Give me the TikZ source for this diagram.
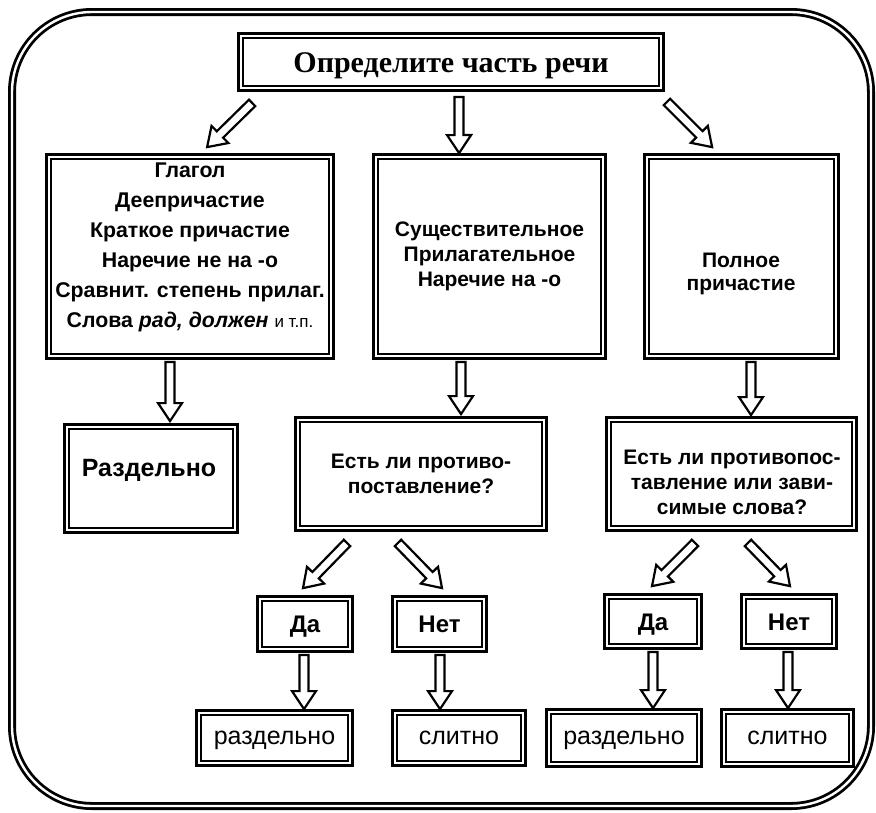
\documentclass[tikz,border=0pt]{standalone}
\usepackage{fontspec}
\setmainfont{Liberation Sans}
\newfontfamily\titlefont{Liberation Serif}
\usetikzlibrary{calc}
\tikzset{
  box/.style={draw=black, line width=2.8pt, inner sep=0pt, font=\bfseries\fontsize{21}{25}\selectfont},
  txt/.style={inner sep=0pt, align=center, font=\bfseries\fontsize{21}{25}\selectfont},
  yesno/.style={font=\bfseries\fontsize{24}{26}\selectfont, text height=17pt, text depth=0pt},
  reg/.style={font=\mdseries\fontsize{25}{28}\selectfont, text height=13pt, text depth=0pt},
  harrow/.style={draw=black, line width=2.2pt, fill=white, line join=miter,
    to path={
      let \p1=(\tikztostart), \p2=(\tikztotarget),
          \n1={atan2(\y2-\y1,\x2-\x1)}, \n2={veclen(\x2-\x1,\y2-\y1)}
      in ($(\p1)+(\n1+90:4.5pt)$)
      -- ($(\p1)+(\n1:{(\n2-18)*1pt})+(\n1+90:4.5pt)$)
      -- ($(\p1)+(\n1:{(\n2-18)*1pt})+(\n1+90:12pt)$)
      -- (\p2)
      -- ($(\p1)+(\n1:{(\n2-18)*1pt})+(\n1-90:12pt)$)
      -- ($(\p1)+(\n1:{(\n2-18)*1pt})+(\n1-90:4.5pt)$)
      -- ($(\p1)+(\n1-90:4.5pt)$) -- cycle
    }},
  frame/.style={draw=black, line width=2.8pt, double=white, double distance=2.4pt, rounded corners=80pt}
}
\begin{document}
\begin{tikzpicture}[x=1pt,y=-1pt]
\useasboundingbox (0,0) rectangle (876,812);
\draw[frame] (12,12) rectangle (871,806);

% boxes
\node[box, minimum width=425pt, minimum height=57pt, text height=20pt, text depth=0pt] (top) at (451,62) {\titlefont\fontsize{30}{32}\selectfont Определите часть речи};
\node[box, minimum width=287pt, minimum height=204pt] (L) at (190,256.5) {};
\node[box, align=center, minimum width=232pt, minimum height=204pt] (M) at (489.5,256.5) {Существительное\\Прилагательное\\Наречие на -о};
\node[box, minimum width=194pt, minimum height=204pt] (R) at (741.5,256.5) {};
\node[box, minimum width=173pt, minimum height=108pt] (Razd) at (151,478.5) {};
\node[box, align=center, minimum width=251pt, minimum height=113pt] (QM) at (421,474) {Есть ли противо-\\поставление?};
\node[box, minimum width=250pt, minimum height=113pt] (QR) at (731.5,474) {};
\node[box, yesno, minimum width=95pt, minimum height=55pt] (DaM) at (305,624) {Да};
\node[box, yesno, minimum width=94pt, minimum height=55pt] (NetM) at (439.5,624) {Нет};
\node[box, yesno, minimum width=97pt, minimum height=54pt] (DaR) at (653,621.5) {Да};
\node[box, yesno, minimum width=95pt, minimum height=54pt] (NetR) at (789,621.5) {Нет};
\node[box, reg, minimum width=156pt, minimum height=55pt] (RazM) at (274.5,738) {раздельно};
\node[box, reg, minimum width=133pt, minimum height=55pt] (SlitM) at (459,738) {слитно};
\node[box, reg, minimum width=155pt, minimum height=57pt] (RazR) at (624,738) {раздельно};
\node[box, reg, minimum width=132pt, minimum height=57pt] (SlitR) at (787.5,738) {слитно};

% inner thin borders
\foreach \n in {top,L,M,R,Razd,QM,QR,DaM,NetM,DaR,NetR,RazM,SlitM,RazR,SlitR}{
  \draw[line width=1.4pt] ([shift={(6,6)}]\n.north west) rectangle ([shift={(-6,-6)}]\n.south east);
}

% texts placed off-centre
\node[txt, font=\bfseries\fontsize{21.3}{30}\selectfont] (Ltxt) at (190,247.5) {Глагол\\Деепричастие\\Краткое причастие\\Наречие не на -о\\Сравнит. степень прилаг.\\Слова \textit{рад, должен} {\mdseries\fontsize{17}{20}\selectfont и т.п.}};
\node[txt, font=\bfseries\fontsize{21}{23}\selectfont] (Rtxt) at (741,273.5) {Полное\\причастие};
\node[txt, font=\bfseries\fontsize{25}{27}\selectfont] (Razdtxt) at (149,470) {Раздельно};
\node[txt] (QRtxt) at (732,482) {Есть ли противопос-\\тавление или зави-\\симые слова?};

% arrows
\draw[harrow] ($(top.south west)+(15,11)$) to ($(L.north west)+(162,-6)$);
\draw[harrow] ($(top.south)+(8,5)$) to ($(M.north west)+(87,0)$);
\draw[harrow] ($(top.south east)+(2,10)$) to ($(R.north west)+(69,-6)$);
\draw[harrow] ($(L.south)+(-20,2)$) to ($(Razd.north)+(19,-2)$);
\draw[harrow] ($(M.south)+(-28.5,2)$) to ($(QM.north)+(40,-2)$);
\draw[harrow] ($(R.south)+(9.5,2)$) to ($(QR.north)+(19.5,-1)$);
\draw[harrow] ($(QM.south)+(-74,11)$) to ($(DaM.north)+(-2,-7)$);
\draw[harrow] ($(QM.south)+(-23,11)$) to ($(NetM.north)+(2.5,-7)$);
\draw[harrow] ($(QR.south)+(-36.5,11)$) to ($(DaR.north)+(-1,-7)$);
\draw[harrow] ($(QR.south)+(16.5,11)$) to ($(NetR.north)+(1,-7)$);
\draw[harrow] ($(DaM.south)+(-1,2)$) to ($(RazM.north)+(29.5,0)$);
\draw[harrow] ($(NetM.south)+(0.5,2)$) to ($(SlitM.north)+(-19,0)$);
\draw[harrow] ($(DaR.south)+(0,2)$) to ($(RazR.north)+(29,0)$);
\draw[harrow] ($(NetR.south)+(-1,2)$) to ($(SlitR.north)+(0.5,0)$);
\end{tikzpicture}
\end{document}
